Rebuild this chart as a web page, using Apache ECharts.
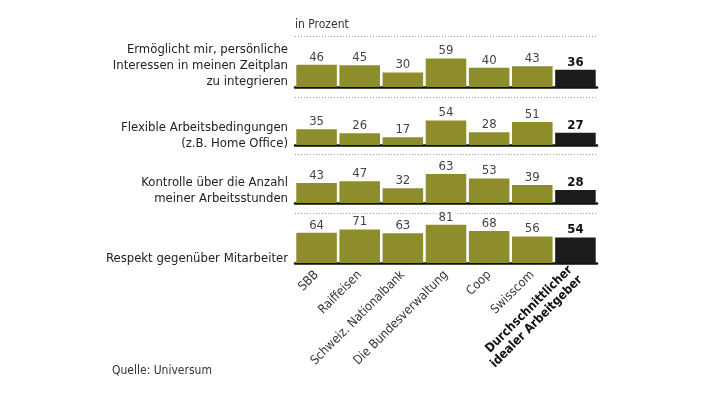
<!DOCTYPE html>
<html>
<head>
<meta charset="utf-8">
<script src="https://cdn.jsdelivr.net/npm/echarts@6/dist/echarts.min.js"></script>
<style>
    html, body {margin: 0; padding: 0; background: #fff;}
    #chart {width: 720px; height: 405px;}
</style>
</head>
<body>
<div id="chart"></div>
<script>
//数据
var categories = ['SBB', 'Raiffeisen', 'Schweiz. Nationalbank', 'Die Bundesverwaltung', 'Coop', 'Swisscom', 'Durchschnittlicher\nidealer Arbeitgeber'];
var rowLabels = [
    'Ermöglicht mir, persönliche\nInteressen in meinen Zeitplan\nzu integrieren',
    'Flexible Arbeitsbedingungen\n(z.B. Home Office)',
    'Kontrolle über die Anzahl\nmeiner Arbeitsstunden',
    'Respekt gegenüber Mitarbeiter'
];
var row1 = [46, 45, 30, 59, 40, 43, 36];
var row2 = [35, 26, 17, 54, 28, 51, 27];
var row3 = [43, 47, 32, 63, 53, 39, 28];
var row4 = [64, 71, 63, 81, 68, 56, 54];
var rows = [row1, row2, row3, row4];

var FONT = '"Liberation Sans Narrow", "DejaVu Sans Condensed", "Roboto", sans-serif';
var OLIVE = '#8d8d2c';
var DARK = '#1c1c1c';

//每一行的网格位置 [top, bottom基线]
var rowBox = [[36, 87], [97, 145], [154, 203], [213, 263]];
var rowLabelY = [50, 128, 183, 259];

var grids = [], xAxes = [], yAxes = [], series = [], graphics = [];
rows.forEach(function (vals, r) {
    grids.push({left: 295, width: 302, top: rowBox[r][0], height: rowBox[r][1] - rowBox[r][0]});
    xAxes.push({
        type: 'category',
        gridIndex: r,
        data: categories,
        axisLine: {show: true, lineStyle: {color: '#111', width: 2.5}},
        axisTick: {show: false},
        axisLabel: {
            show: r === 3,
            rotate: 45,
            margin: 10,
            interval: 0,
            fontFamily: FONT,
            fontSize: 12.5,
            color: '#333',
            lineHeight: 14,
            formatter: function (v, i) {
                return i === 6 ? '{b|' + v.split('\n').join('}\n{b|') + '}' : v;
            },
            rich: {b: {fontWeight: 'bold', color: '#111', fontFamily: FONT, fontSize: 12.5, lineHeight: 14}}
        }
    });
    yAxes.push({
        type: 'value',
        gridIndex: r,
        min: 0,
        max: 106,
        interval: 106,
        axisLine: {show: false},
        axisTick: {show: false},
        axisLabel: {show: false},
        splitLine: {show: true, lineStyle: {color: '#9a9a9a', type: [1, 2], width: 1}}
    });
    series.push({
        type: 'bar',
        xAxisIndex: r,
        yAxisIndex: r,
        barCategoryGap: '6%',
        silent: true,
        data: vals.map(function (v, i) {
            return {
                value: v,
                itemStyle: {color: i === 6 ? DARK : OLIVE},
                label: i === 6 ? {fontWeight: 'bold', color: '#111'} : {}
            };
        }),
        label: {
            show: true,
            position: 'top',
            distance: 1,
            fontFamily: FONT,
            fontSize: 13,
            color: '#444',
            backgroundColor: '#fff',
            padding: [0, 2]
        }
    });
    graphics.push({
        type: 'text',
        x: 288,
        y: rowLabelY[r] - 8,
        style: {
            text: rowLabels[r],
            font: '13px ' + FONT,
            fill: '#222',
            align: 'right',
            verticalAlign: 'top',
            lineHeight: 16
        }
    });
});

graphics.push({
    type: 'text', left: 295, top: 19,
    style: {text: 'in Prozent', font: '12px ' + FONT, fill: '#333'}
});
graphics.push({
    type: 'text', left: 112, top: 365,
    style: {text: 'Quelle: Universum', font: '12px ' + FONT, fill: '#333'}
});

var myChart = echarts.init(document.getElementById('chart'));
myChart.setOption({
    animation: false,
    grid: grids,
    xAxis: xAxes,
    yAxis: yAxes,
    series: series,
    graphic: graphics
});
</script>
</body>
</html>
